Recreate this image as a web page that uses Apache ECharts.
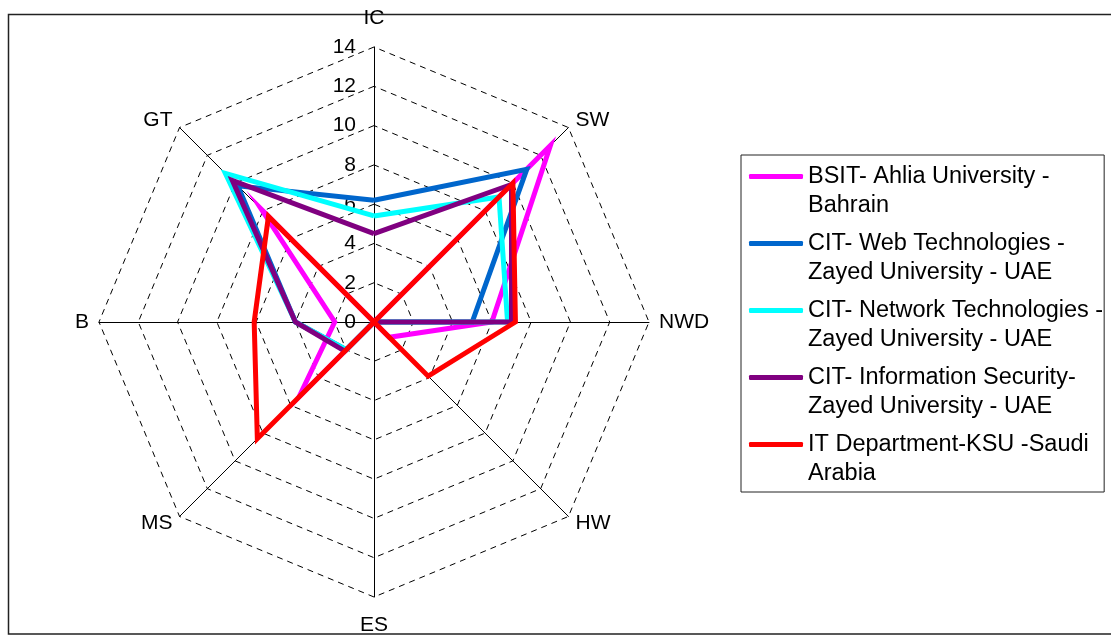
<!DOCTYPE html>
<html>
<head>
<meta charset="utf-8">
<title>Curriculum profile radar</title>
<script src="https://cdn.jsdelivr.net/npm/echarts@6/dist/echarts.min.js"></script>
<style>
  html, body { margin: 0; padding: 0; background: #fff; }
  #chart { width: 1111px; height: 637px; }
</style>
</head>
<body>
<div id="chart"></div>
<script>
// Knowledge areas, listed counter-clockwise from the top (radar draws them that way)
const areas = ['IC', 'GT', 'B', 'MS', 'ES', 'HW', 'NWD', 'SW'];
const scaleMax = 14;

const programNames = [
  'BSIT- Ahlia University -\nBahrain',
  'CIT- Web Technologies -\nZayed University - UAE',
  'CIT- Network Technologies -\nZayed University - UAE',
  'CIT- Information Security-\nZayed University - UAE',
  'IT Department-KSU -Saudi\nArabia'
];

// Values per area, same order as `areas`
const bsitAhlia      = [0,   8.1,  2,   5.4, 0, 1.1, 6,   12.7];
const citWeb         = [6.2, 9.8,  4,   2,   0, 0,   5,   11];
const citNetwork     = [5.4, 10.7, 4,   2,   0, 0,   6.8, 9];
const citSecurity    = [4.5, 10.2, 4,   2.1, 0, 0,   7,   9.9];
const ksuIT          = [0,   7.6,  6.1, 8.4, 0, 3.9, 7.2, 10];

const programValues = [bsitAhlia, citWeb, citNetwork, citSecurity, ksuIT];
const programColors = ['#FF00FF', '#0066CC', '#00FFFF', '#800080', '#FF0000'];

const FONT = 'Liberation Sans, Arial, sans-serif';

const chart = echarts.init(document.getElementById('chart'), null, { renderer: 'canvas' });

const option = {
  backgroundColor: '#fff',
  animation: false,
  graphic: [{
    type: 'rect',
    shape: { x: 8.5, y: 14.5, width: 1120, height: 619.5 },
    style: { fill: 'none', stroke: '#222', lineWidth: 1.5 },
    silent: true
  }],
  legend: {
    orient: 'vertical',
    left: 741,
    top: 155,
    padding: [-22, 1, 4, 8],
    borderColor: '#222',
    borderWidth: 1,
    itemWidth: 54,
    itemHeight: 5,
    itemGap: -20,
    textGap: 5,
    icon: 'roundRect',
    // a blank first line keeps the swatch level with the first line of each name
    formatter: name => '\n' + name,
    textStyle: {
      fontFamily: FONT,
      fontSize: 23.5,
      color: '#000',
      lineHeight: 29,
      backgroundColor: 'rgba(255,255,255,0)'
    },
    data: programNames
  },
  radar: {
    center: [374, 322],
    radius: 275,
    startAngle: 90,
    shape: 'polygon',
    splitNumber: 7,
    indicator: areas.map((name, i) => ({
      name: name,
      min: 0,
      max: scaleMax,
      axisLabel: i === 0 ? { show: true } : undefined
    })),
    nameGap: 10,
    axisName: {
      color: '#000',
      fontFamily: FONT,
      fontSize: 21,
      padding: [8, 0, 8, 0]
    },
    axisLine: { lineStyle: { color: '#000', width: 1 } },
    axisTick: { show: false },
    axisLabel: {
      show: false,
      color: '#000',
      fontFamily: FONT,
      fontSize: 21,
      margin: 18
    },
    splitLine: {
      lineStyle: { color: '#000', width: 1, type: [6, 5] }
    },
    splitArea: { show: false }
  },
  series: programNames.map((name, i) => ({
    type: 'radar',
    name: name,
    symbol: 'none',
    color: programColors[i],
    lineStyle: { color: programColors[i], width: 5, join: 'miter' },
    data: [{ name: name, value: programValues[i] }]
  }))
};

chart.setOption(option);
</script>
</body>
</html>
